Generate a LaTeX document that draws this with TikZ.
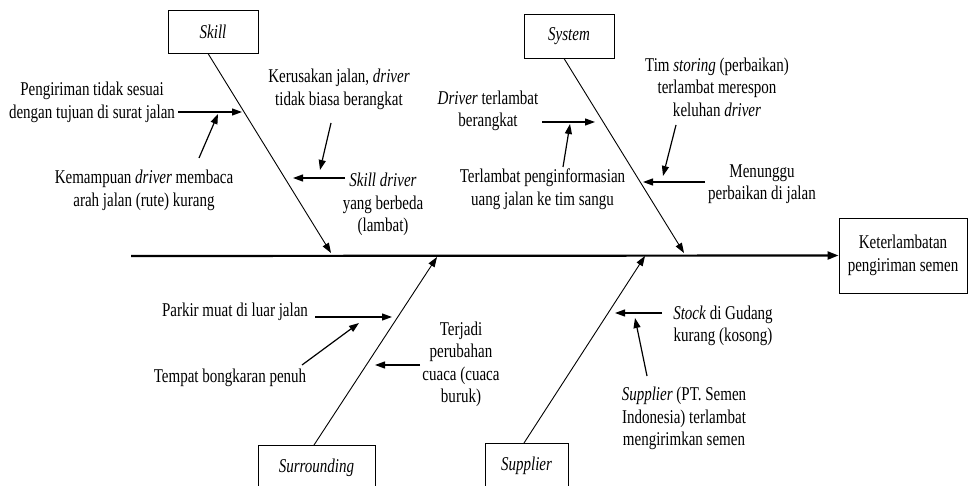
\documentclass[tikz,border=0pt]{standalone}
\usepackage{fontspec}
\setmainfont{Liberation Serif}[FakeStretch=0.77]
\usetikzlibrary{arrows.meta}
\newcommand\fishfont{\fontsize{19.5}{22.5}\selectfont}
\tikzset{
	catbox/.style={draw,line width=0.9pt,inner sep=0pt,font=\fishfont\itshape},
	effectbox/.style={draw,line width=0.9pt,inner sep=0pt,align=center,font=\fishfont},
	causetext/.style={align=center,inner sep=0pt,font=\fishfont},
	spine/.style={line width=2.2pt,-{Triangle[length=11pt,width=8pt]}},
	bone/.style={line width=0.9pt,-{Triangle[length=10pt,width=7pt]}},
	cause/.style={line width=1.2pt,-{Triangle[length=10pt,width=7pt]}},
}
\begin{document}
\begin{tikzpicture}[x=1pt,y=-1pt]
		\useasboundingbox (0,0) rectangle (968,486);
		% head and categories
		\node[effectbox,minimum width=128pt,minimum height=75pt] (effect) at (903,255.5) {Keterlambatan\\pengiriman semen};
		\node[catbox,minimum width=90pt,minimum height=43pt] (skill) at (213,31.5) {Skill};
		\node[catbox,minimum width=90pt,minimum height=44pt] (system) at (569,36) {System};
		\node[catbox,minimum width=117pt,minimum height=44pt,anchor=north] (surround) at (316.5,445) {Surrounding};
		\node[catbox,minimum width=83pt,minimum height=44pt,anchor=north] (supplier) at (526.5,443) {Supplier};
		% spine and bones
		\coordinate (tail) at (131,256);
		\coordinate (skilltip) at (331,253);
		\coordinate (systemtip) at (684,253);
		\coordinate (surroundtip) at (437,257);
		\coordinate (suppliertip) at (645,256);
		\draw[spine] (tail) -- (effect.west);
		\draw[bone] ([xshift=-5pt]skill.south) -- (skilltip);
		\draw[bone] ([xshift=-5pt]system.south) -- (systemtip);
		\draw[bone] ([xshift=-2.5pt]surround.north) -- (surroundtip);
		\draw[bone] ([xshift=-2.5pt]supplier.north) -- (suppliertip);
		% skill
		\node[causetext] (sk1) at (92,102.5) {Pengiriman tidak sesuai\\dengan tujuan di surat jalan};
		\node[causetext] (sk2) at (144,190.5) {Kemampuan \emph{driver} membaca\\arah jalan (rute) kurang};
		\node[causetext] (sk3) at (339,89.5) {Kerusakan jalan, \emph{driver}\\tidak biasa berangkat};
		\node[causetext] (sk4) at (383,204.5) {\emph{Skill driver}\\yang berbeda\\(lambat)};
		\coordinate (sk1t) at (242,112);
		\coordinate (sk2t) at (218,114);
		\coordinate (sk3t) at (320,170);
		\coordinate (sk4t) at (293,178);
		\draw[cause] ([shift={(86,9.5)}]sk1.center) -- (sk1t);
		\draw[cause] ([shift={(55,-32.5)}]sk2.center) -- (sk2t);
		\draw[cause] ([shift={(-8,33.5)}]sk3.center) -- (sk3t);
		\draw[cause] ([shift={(-38,-26.5)}]sk4.center) -- (sk4t);
		% system
		\node[causetext] (sy1) at (488,111) {\emph{Driver} terlambat\\berangkat};
		\node[causetext] (sy2) at (542.5,189) {Terlambat penginformasian\\uang jalan ke tim sangu};
		\node[causetext] (sy3) at (717,87) {Tim \emph{storing} (perbaikan)\\terlambat merespon\\keluhan \emph{driver}};
		\node[causetext] (sy4) at (762,184) {Menunggu\\perbaikan di jalan};
		\coordinate (sy1t) at (595,122);
		\coordinate (sy2t) at (570,124);
		\coordinate (sy3t) at (663,176);
		\coordinate (sy4t) at (643,182);
		\draw[cause] ([shift={(54,11)}]sy1.center) -- (sy1t);
		\draw[cause] ([shift={(20.5,-22)}]sy2.center) -- (sy2t);
		\draw[cause] ([shift={(-41,38)}]sy3.center) -- (sy3t);
		\draw[cause] ([shift={(-57,-2)}]sy4.center) -- (sy4t);
		% surrounding
		\node[causetext] (su1) at (235,312) {Parkir muat di luar jalan};
		\node[causetext] (su2) at (230,378) {Tempat bongkaran penuh};
		\node[causetext] (su3) at (461,364.5) {Terjadi\\perubahan\\cuaca (cuaca\\buruk)};
		\coordinate (su1t) at (392,317);
		\coordinate (su2t) at (359,323);
		\coordinate (su3t) at (375,365);
		\draw[cause] ([shift={(80,5)}]su1.center) -- (su1t);
		\draw[cause] ([shift={(72,-13)}]su2.center) -- (su2t);
		\draw[cause] ([shift={(-41,0.5)}]su3.center) -- (su3t);
		% supplier
		\node[causetext] (sp1) at (723,326) {\emph{Stock} di Gudang\\kurang (kosong)};
		\node[causetext] (sp2) at (684,418.5) {\emph{Supplier} (PT. Semen\\Indonesia) terlambat\\mengirimkan semen};
		\coordinate (sp1t) at (615,313);
		\coordinate (sp2t) at (635,318);
		\draw[cause] ([shift={(-61,-13)}]sp1.center) -- (sp1t);
		\draw[cause] ([shift={(-37,-42.5)}]sp2.center) -- (sp2t);
\end{tikzpicture}
\end{document}
